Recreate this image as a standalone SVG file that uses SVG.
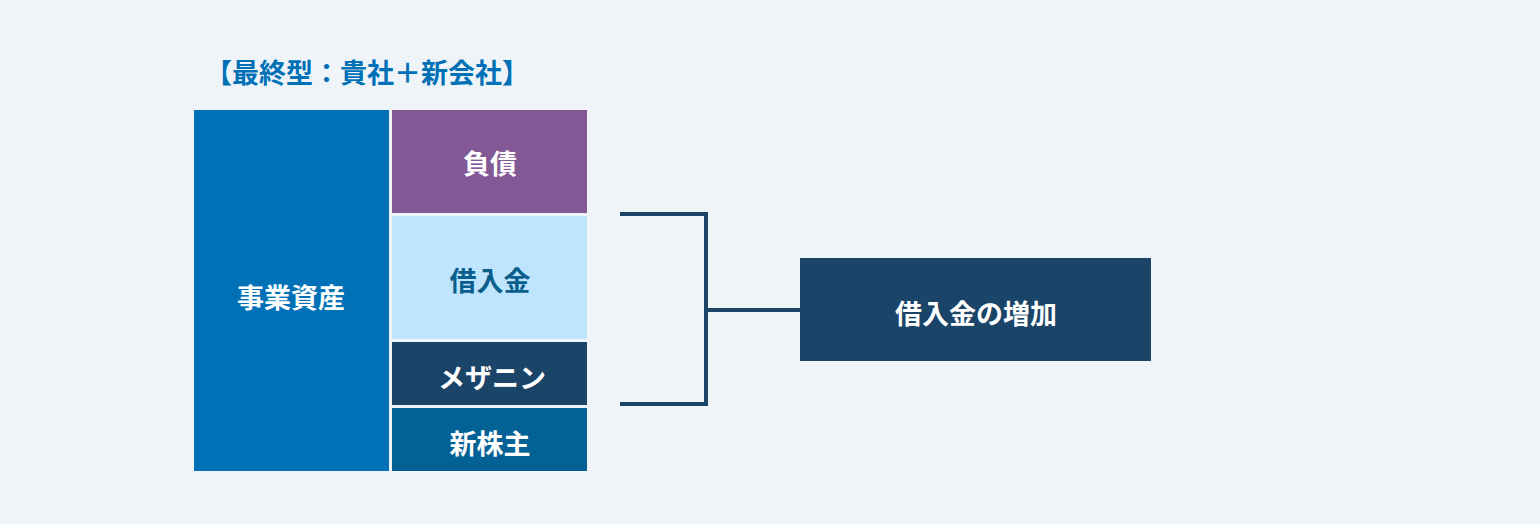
<svg xmlns="http://www.w3.org/2000/svg" width="1540" height="524" viewBox="0 0 1540 524">
<style>
text{font-family:"Noto Sans CJK JP","Noto Sans",sans-serif;font-weight:700;text-anchor:middle;dominant-baseline:central}
.w{fill:#fff;font-size:27px}
.c{fill:none;stroke:#1b4469;stroke-width:4}
</style>
<rect width="1540" height="524" fill="#eff4f8"/>
<text x="367" y="71" fill="#0071b7" font-size="27">【最終型：貴社＋新会社】</text>
<g id="assets"><rect x="194" y="110" width="195" height="361" fill="#0071b7"/><text class="w" x="291" y="296">事業資産</text></g>
<g id="debt"><rect x="392" y="110" width="195" height="103" fill="#825895"/><text class="w" x="490" y="162">負債</text></g>
<g id="loan"><rect x="392" y="216" width="195" height="123" fill="#bee5fd"/><text x="490" y="279" font-size="27" fill="#0a5e8c">借入金</text></g>
<g id="mezz"><rect x="392" y="342" width="195" height="63" fill="#1b4469"/><text class="w" x="492" y="376">メザニン</text></g>
<g id="equity"><rect x="392" y="408" width="195" height="63" fill="#026195"/><text class="w" x="490" y="442">新株主</text></g>
<g id="connectors"><path class="c" d="M620 214H706V404H620M706 310H800"/></g>
<g id="increase"><rect x="800" y="258" width="351" height="103" fill="#1b4469"/><text class="w" x="976" y="312">借入金の増加</text></g>
</svg>
